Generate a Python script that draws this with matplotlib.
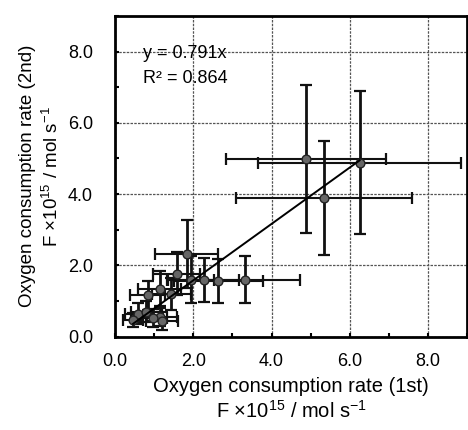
import matplotlib
matplotlib.use("Agg")
import matplotlib.pyplot as plt
from matplotlib.ticker import MultipleLocator

plt.rcParams['font.family'] = ['Liberation Sans', 'DejaVu Sans']
plt.rcParams['mathtext.fontset'] = 'custom'
plt.rcParams['mathtext.rm'] = 'Liberation Sans'

# oxygen consumption rate, 1st vs 2nd measurement (F x10^15 / mol s^-1)
x_1st = [4.88, 6.25, 5.35, 1.83, 3.33, 2.64, 2.26, 1.93, 1.57, 1.14, 1.44, 0.83,
         0.59, 0.80, 1.14, 0.46, 1.20, 0.97]
y_2nd = [4.98, 4.88, 3.88, 2.33, 1.60, 1.57, 1.58, 1.60, 1.77, 1.35, 1.21, 1.16,
         0.65, 0.70, 0.56, 0.47, 0.44, 0.52]
x_err = [2.05, 2.60, 2.25, 0.80, 1.40, 1.14, 0.90, 0.60, 0.60, 0.55, 0.50, 0.45,
         0.35, 0.40, 0.45, 0.25, 0.40, 0.35]
y_err = [2.07, 2.00, 1.60, 0.95, 0.65, 0.62, 0.62, 0.65, 0.60, 0.50, 0.45, 0.40,
         0.30, 0.30, 0.25, 0.20, 0.25, 0.25]
slope = 0.791
r2 = 0.864

fig = plt.figure(figsize=(4.68, 4.30), dpi=100)
ax = fig.add_axes([0.246, 0.217, 0.752, 0.746])

ax.errorbar(x_1st, y_2nd, yerr=y_err, fmt='none', ecolor='#111111',
            elinewidth=2.0, capsize=4, capthick=1.6, zorder=3)
ax.errorbar(x_1st, y_2nd, xerr=x_err, fmt='none', ecolor='#111111',
            elinewidth=1.5, capsize=4, capthick=1.6, zorder=3)
ax.scatter(x_1st, y_2nd, s=40, facecolor='#666666', edgecolor='#222222',
           linewidths=1.0, zorder=4)

xmin, xmax = min(x_1st), max(x_1st)
ax.plot([xmin, xmax], [slope * xmin, slope * xmax], color='black', lw=1.4, zorder=5)

ax.text(0.72, 7.95, f'y = {slope}x', fontsize=13, va='center')
ax.text(0.72, 7.25, f'R² = {r2}', fontsize=13, va='center')

ax.set_xlim(0, 9)
ax.set_ylim(0, 9)
ax.xaxis.set_minor_locator(MultipleLocator(1))
ax.yaxis.set_minor_locator(MultipleLocator(1))
ax.set_xticks([0, 2, 4, 6, 8])
ax.set_xticklabels(['0.0', '2.0', '4.0', '6.0', '8.0'])
ax.set_yticks([0, 2, 4, 6, 8])
ax.set_yticklabels(['0.0', '2.0', '4.0', '6.0', '8.0'])
ax.tick_params(which='both', direction='in', length=3, width=1.5, labelsize=13)
ax.tick_params(axis='x', pad=12)
ax.tick_params(axis='y', pad=16)
ax.grid(True, which='major', color='#555555', linestyle=(0, (2, 1)), lw=0.9)
for s in ax.spines.values():
    s.set_linewidth(2)

ax.set_xlabel('Oxygen consumption rate (1st)\nF ×10$^{15}$ / mol s$^{-1}$', fontsize=14.5,
              labelpad=5, linespacing=1.2)
ax.set_ylabel('Oxygen consumption rate (2nd)\nF ×10$^{15}$ / mol s$^{-1}$', fontsize=13.5,
              labelpad=4, linespacing=1.3)

fig.savefig('out.png', dpi=100)
